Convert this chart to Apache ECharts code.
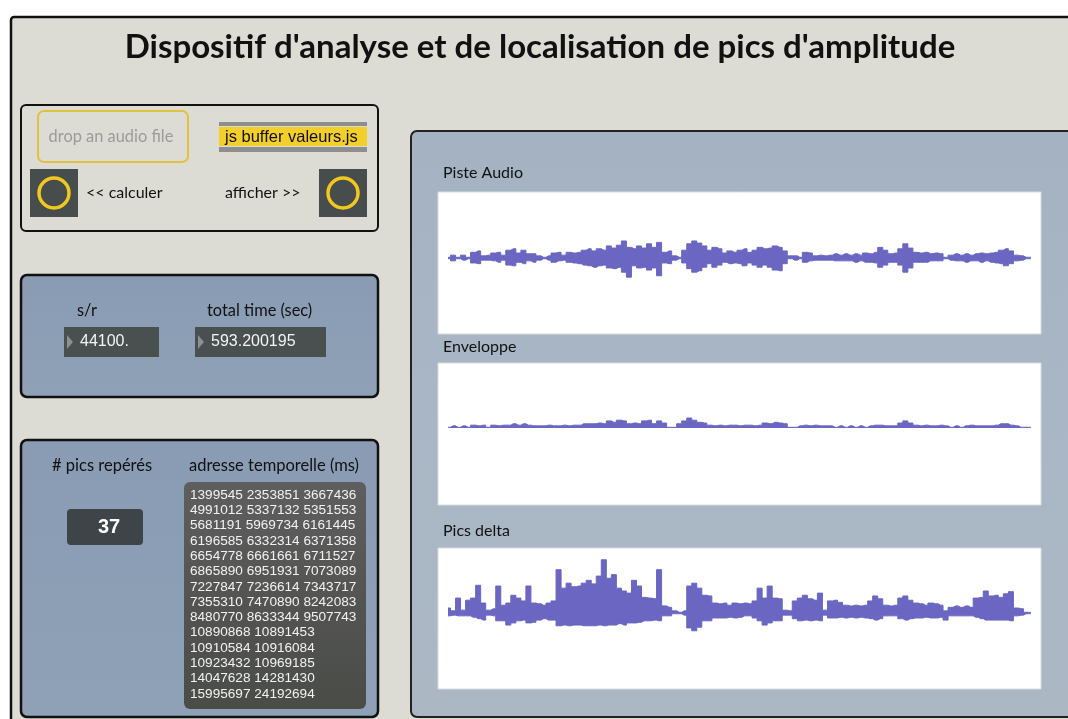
<!DOCTYPE html>
<html>
<head>
<meta charset="utf-8">
<script src="https://cdn.jsdelivr.net/npm/echarts@6/dist/echarts.min.js"></script>
<style>html,body{margin:0;padding:0;background:#fff;}#c{width:1068px;height:719px;}</style>
</head>
<body>
<div id="c"></div>
<script>
// ---- DATA (amplitudes in % of full scale) ----
const chartTitle = "Dispositif d'analyse et de localisation de pics d'amplitude";
const sampleRate = "44100.";
const totalTime = "593.200195";
const peakCount = "37";
const peakAddresses = [
  "1399545 2353851 3667436",
  "4991012 5337132 5351553",
  "5681191 5969734 6161445",
  "6196585 6332314 6371358",
  "6654778 6661661 6711527",
  "6865890 6951931 7073089",
  "7227847 7236614 7343717",
  "7355310 7470890 8242083",
  "8480770 8633344 9507743",
  "10890868 10891453",
  "10910584 10916084",
  "10923432 10969185",
  "14047628 14281430",
  "15995697 24192694"
];
const plotLabels = ["Piste Audio", "Enveloppe", "Pics delta"];

const audioHigh = [1,4,1,4,1,8,10,3,4,7, 8,4,11,13,7,11,6,6,3,1, 3,7,8,4,8,7,8,11,13,10,
  13,11,17,14,18,24,15,13,17,14, 20,15,22,8,10,3,1,11,20,24, 21,17,11,15,13,7,10,8,11,13,
  8,11,15,13,14,17,15,10,3,3, 1,8,7,3,4,3,4,6,4,6, 4,6,4,7,6,8,15,11,6,7,
  13,20,14,8,7,8,6,7,6,1, 4,6,4,6,4,6,7,6,7,8, 11,13,10,4,3,1,1];
const audioLow = [-1,-4,-1,-3,-1,-7,-8,-3,-3,-4, -6,-3,-10,-11,-6,-8,-4,-6,-3,-1,
  -3,-6,-4,-3,-6,-7,-8,-10,-11,-13, -11,-10,-14,-15,-13,-20,-27,-11,-14,-13,
  -17,-14,-25,-7,-8,-3,-1,-7,-15,-20, -18,-13,-8,-13,-10,-6,-8,-7,-8,-11,
  -7,-10,-13,-10,-13,-17,-18,-8,-1,-3, -1,-6,-4,-3,-3,-3,-3,-4,-4,-4,
  -4,-6,-4,-6,-6,-7,-13,-10,-6,-6, -10,-20,-14,-6,-6,-6,-4,-4,-4,-1,
  -3,-4,-4,-6,-4,-4,-6,-4,-6,-7, -8,-11,-8,-4,-3,-1,-1];

const envelope = [1,3,1,3, 1,4,3,4,1,4, 3,4,4,6,4,6,4,3, 3,3,4,3,3,4,3, 4,4,6,6,6,7,6,
  10,8,11,10, 6,7,6,10,11,6,10,7, 1,1, 6,10,14,11,8,7, 4,3,4,3,4, 4,3,4,4,3,4,
  7,6,8,7,6, 1,1, 3,4,3,4,3,3,3, 1,3,1,3,1,3,1,3, 4,4,3, 3,3, 7,10,7,
  4,3,4,3,3,4,3, 1,3,1,3, 4, 3,3,3,3, 4,6,6,4,3, 1,1,1];

const deltaHigh = [7,3,21,4,18,21,39,14,4,6, 38,11,14,25,21,17,38,14,13,11,
  14,17,61,35,42,37,38,42,46,41, 52,75,49,54,35,31,28,46,38,22,
  21,20,61,10,8,3,1,3,38,42, 35,25,24,14,13,14,11,14,13,14,
  13,17,35,21,38,21,20,4,3,17, 21,25,20,18,28,4,17,18,15,11,
  10,11,10,11,17,24,20,11,10,11, 21,24,18,14,13,11,14,13,11,3,
  8,10,8,10,8,21,22,31,24,25, 22,27,30,7,6,1,1];
const deltaLow = [-4,-3,-4,-4,-4,-6,-8,-10,-3,-4, -11,-11,-17,-14,-11,-10,-14,-13,-10,-8,
  -10,-10,-18,-17,-18,-17,-17,-18,-18,-18, -17,-18,-17,-17,-15,-17,-14,-14,-13,-11,
  -11,-10,-11,-4,-4,-1,-1,-3,-21,-25, -20,-11,-11,-7,-7,-7,-6,-7,-6,-4,
  -4,-7,-11,-17,-14,-11,-11,-3,-3,-8, -11,-10,-11,-10,-11,-3,-7,-7,-6,-7,
  -6,-7,-6,-7,-8,-10,-8,-4,-4,-4, -8,-10,-8,-7,-7,-6,-7,-7,-6,-10,
  -4,-4,-4,-4,-4,-6,-8,-10,-10,-10, -10,-10,-11,-4,-3,-1,-1];

// ---- CHART ----
const WAVE = '#6a66c2';
const ui = "Lato, 'Open Sans', sans-serif";
const mono = "'Liberation Sans', Arial, sans-serif";
const chart = echarts.init(document.getElementById('c'), null, {renderer: 'canvas'});
const idx = audioHigh.map((_, i) => i);

function txt(x, y, s, font, color, align) {
  return {type: 'text', x: x, y: y, z: 3, style: {text: s, font: font, fill: color,
    textAlign: align || 'left', textVerticalAlign: 'middle'}};
}
const els = [];
els.push({type: 'rect', z: 0, shape: {x: 11, y: 17, width: 1090, height: 730, r: 3},
  style: {fill: '#dcdcd5', stroke: '#111', lineWidth: 2.5}});
els.push(txt(540, 47, chartTitle, 'bold 33px ' + ui, '#111', 'center'));
// panel 1
els.push({type: 'rect', z: 1, shape: {x: 21, y: 105, width: 357, height: 126, r: 5},
  style: {fill: '#dcdcd5', stroke: '#111', lineWidth: 2}});
els.push({type: 'rect', z: 2, shape: {x: 38, y: 111, width: 150, height: 51, r: 6},
  style: {fill: 'none', stroke: '#e2c13e', lineWidth: 2}});
els.push(txt(111, 137, 'drop an audio file', '16.4px ' + ui, '#9b9b9b', 'center'));
els.push({type: 'rect', z: 2, shape: {x: 219, y: 122, width: 148, height: 4}, style: {fill: '#8e8e8e'}});
els.push({type: 'rect', z: 2, shape: {x: 219, y: 127, width: 148, height: 19}, style: {fill: '#f3cf2b'}});
els.push({type: 'rect', z: 2, shape: {x: 219, y: 147, width: 148, height: 5}, style: {fill: '#8e8e8e'}});
els.push(txt(225, 137, 'js buffer valeurs.js', '16.5px ' + mono, '#111'));
[[30, 54], [319, 343]].forEach(function (b) {
  els.push({type: 'rect', z: 2, shape: {x: b[0], y: 169, width: 48, height: 48}, style: {fill: '#474c4c'}});
  els.push({type: 'circle', z: 3, shape: {cx: b[1], cy: 193, r: 15}, style: {fill: 'none', stroke: '#f1c81f', lineWidth: 3.5}});
});
els.push(txt(86, 193, '<< calculer', '16px ' + ui, '#111'));
els.push(txt(225, 193, 'afficher >>', '16px ' + ui, '#111'));
// panel 2
const blueFill = {type: 'linear', x: 0, y: 0, x2: 0, y2: 1,
  colorStops: [{offset: 0, color: '#899cb4'}, {offset: 1, color: '#8fa1b6'}]};
els.push({type: 'rect', z: 1, shape: {x: 21, y: 275, width: 357, height: 122, r: 6},
  style: {fill: blueFill, stroke: '#111', lineWidth: 2.5}});
els.push(txt(77, 311, 's/r', '16.4px ' + ui, '#111'));
els.push(txt(207, 311, 'total time (sec)', '16.4px ' + ui, '#111'));
[[64, 95, sampleRate], [195, 131, totalTime]].forEach(function (b) {
  els.push({type: 'rect', z: 2, shape: {x: b[0], y: 327, width: b[1], height: 30}, style: {fill: '#4a4f50'}});
  els.push({type: 'polygon', z: 3, shape: {points: [[b[0] + 3, 335], [b[0] + 9, 342], [b[0] + 3, 349]]}, style: {fill: '#8d8f90'}});
  els.push(txt(b[0] + 16, 342, b[2], '16px ' + mono, '#f4f4f4'));
});
// panel 3
els.push({type: 'rect', z: 1, shape: {x: 21, y: 440, width: 357, height: 277, r: 6},
  style: {fill: blueFill, stroke: '#111', lineWidth: 2.5}});
els.push(txt(52, 466, '# pics repérés', '16.5px ' + ui, '#111'));
els.push(txt(189, 466, 'adresse temporelle (ms)', '16.5px ' + ui, '#111'));
els.push({type: 'rect', z: 2, shape: {x: 67, y: 509, width: 76, height: 36, r: 4}, style: {fill: '#3f4448'}});
els.push(txt(109, 527, peakCount, 'bold 20px ' + mono, '#ffffff', 'center'));
els.push({type: 'rect', z: 2, shape: {x: 184, y: 482, width: 182, height: 227, r: 6},
  style: {fill: {type: 'linear', x: 0, y: 0, x2: 0, y2: 1,
    colorStops: [{offset: 0, color: '#5e5e5e'}, {offset: 1, color: '#4a4c48'}]}}});
peakAddresses.forEach(function (s, i) {
  els.push(txt(190, 495 + i * 15.3, s, '13.6px ' + mono, '#f2f2f2'));
});
// right panel
els.push({type: 'rect', z: 1, shape: {x: 411, y: 131, width: 700, height: 586, r: 6},
  style: {fill: {type: 'linear', x: 0, y: 0, x2: 0, y2: 1,
    colorStops: [{offset: 0, color: '#a4b2c1'}, {offset: 0.5, color: '#a9b6c5'}, {offset: 1, color: '#abb7c3'}]},
    stroke: '#222', lineWidth: 2}});
[[173, 192, 142], [347, 363, 142], [531, 548, 141]].forEach(function (p, i) {
  els.push(txt(443, p[0], plotLabels[i], '16px ' + ui, '#111'));
  els.push({type: 'rect', z: 2, shape: {x: 438, y: p[1], width: 603, height: p[2]},
    style: {fill: '#ffffff', stroke: '#d6dce3', lineWidth: 1}});
});

const grids = [187, 357, 542].map(function (t) {
  return {left: 448, right: 37, top: t, height: 142, containLabel: false};
});
function ax(i) {
  return {type: 'category', gridIndex: i, data: idx, boundaryGap: false, show: false};
}
function yax(i) {
  return {type: 'value', gridIndex: i, min: -100, max: 100, show: false};
}
function wave(i, data) {
  return {type: 'line', xAxisIndex: i, yAxisIndex: i, data: data, symbol: 'none', step: 'middle',
    z: 5, silent: true, sampling: null,
    lineStyle: {width: 1, color: WAVE}, areaStyle: {color: WAVE, opacity: 1}};
}
chart.setOption({
  animation: false,
  backgroundColor: '#ffffff',
  graphic: {elements: els},
  grid: grids,
  xAxis: [ax(0), ax(1), ax(2)],
  yAxis: [yax(0), yax(1), yax(2)],
  series: [
    wave(0, audioHigh), wave(0, audioLow),
    wave(1, envelope),
    wave(2, deltaHigh), wave(2, deltaLow)
  ]
});
</script>
</body>
</html>
